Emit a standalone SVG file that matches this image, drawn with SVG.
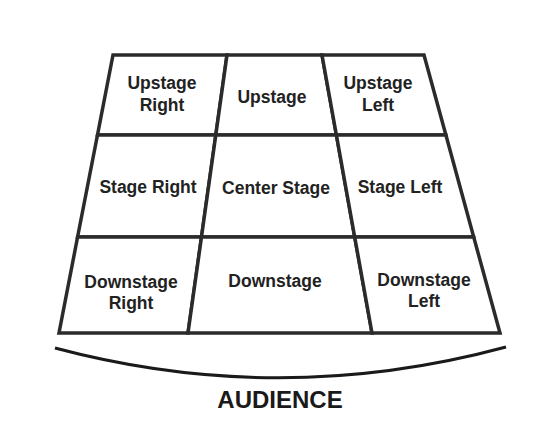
<svg xmlns="http://www.w3.org/2000/svg" width="548" height="441" viewBox="0 0 548 441">
<style>
.cell{fill:#fff;stroke:#2b2b2b;stroke-width:3.5;stroke-linejoin:miter}
.lbl{font-family:"Liberation Sans",Arial,sans-serif;font-weight:bold;font-size:17.5px;fill:#222;text-anchor:middle}
.aud{font-family:"Liberation Sans",Arial,sans-serif;font-weight:bold;font-size:24px;fill:#1a1a1a;text-anchor:middle}
</style>
<rect width="548" height="441" fill="#fff"/>
<g id="upstage-right"><polygon class="cell" points="113,55 227,55 215.8,135 97.5,135"/><text class="lbl" x="162" y="89">Upstage</text><text class="lbl" x="162" y="111">Right</text></g>
<g id="upstage"><polygon class="cell" points="227,55 322,55 336.4,135 215.8,135"/><text class="lbl" x="272" y="103">Upstage</text></g>
<g id="upstage-left"><polygon class="cell" points="322,55 424,55 445.9,135 336.4,135"/><text class="lbl" x="378" y="89">Upstage</text><text class="lbl" x="378" y="111">Left</text></g>
<g id="stage-right"><polygon class="cell" points="97.5,135 215.8,135 201.5,237 77.6,237"/><text class="lbl" x="148" y="193">Stage Right</text></g>
<g id="center-stage"><polygon class="cell" points="215.8,135 336.4,135 354.7,237 201.5,237"/><text class="lbl" x="276" y="194">Center Stage</text></g>
<g id="stage-left"><polygon class="cell" points="336.4,135 445.9,135 473.7,237 354.7,237"/><text class="lbl" x="400" y="193">Stage Left</text></g>
<g id="downstage-right"><polygon class="cell" points="77.6,237 201.5,237 188,333 59,333"/><text class="lbl" x="131" y="288">Downstage</text><text class="lbl" x="131" y="309">Right</text></g>
<g id="downstage"><polygon class="cell" points="201.5,237 354.7,237 372,333 188,333"/><text class="lbl" x="275" y="287">Downstage</text></g>
<g id="downstage-left"><polygon class="cell" points="354.7,237 473.7,237 500,333 372,333"/><text class="lbl" x="424" y="286">Downstage</text><text class="lbl" x="424" y="307">Left</text></g>
<g id="connectors"><path d="M55,348 Q280,408 506,347" fill="none" stroke="#1a1a1a" stroke-width="3"/></g>
<g id="audience"><text class="aud" x="280" y="408">AUDIENCE</text></g>
</svg>
